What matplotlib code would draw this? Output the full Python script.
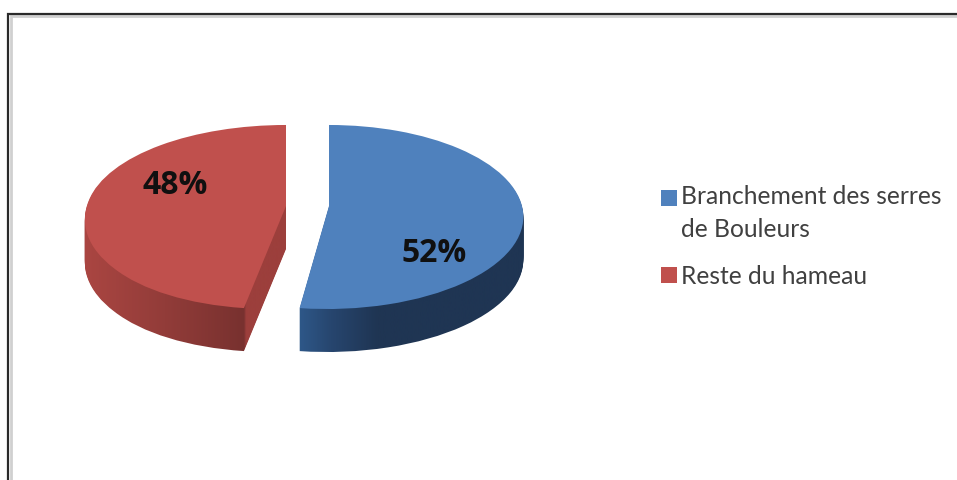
import numpy as np
import matplotlib
matplotlib.use("Agg")
import matplotlib.pyplot as plt
from matplotlib.colors import LinearSegmentedColormap
from matplotlib.legend_handler import HandlerPatch
from matplotlib.patches import Rectangle
from matplotlib.transforms import Affine2D, Transform

labels = ["Branchement des serres\nde Bouleurs", "Reste du hameau"]
values = [52, 48]

top_colors = ["#4f81bd", "#c0504d"]
# teinte du bord, de gauche a droite
side_colors = [
    [(0.0, "#2f5a8c"), (0.15, "#27466f"), (0.35, "#1f3553"), (1.0, "#1f3553")],
    [(0.0, "#ab4642"), (0.4, "#923c39"), (0.78, "#78312f"), (0.79, "#9c3f3c"), (1.0, "#9c3f3c")],
]
side_extent = [(295, 530), (82, 290)]

W, H = 957, 481
CY = 207
RY, P = 90.7, 0.1195
DEPTH = 43
# centre, rayon et deformation de chaque part
slice_cx = [329, 286]
slice_rx = [193, 199]
slice_bend = [2, 14]


class Perspective(Transform):
    # camembert vu en perspective : le haut est plus loin
    input_dims = 2
    output_dims = 2

    def __init__(self, rx, bend):
        super().__init__()
        self.rx = rx
        self.bend = bend

    def transform_non_affine(self, xy):
        xy = np.asarray(xy, dtype=float)
        w = 1 + P * xy[:, 1]
        x = self.rx * xy[:, 0] / w - self.bend * np.minimum(xy[:, 1], 0) ** 2
        return np.column_stack((x, RY * xy[:, 1] / w))


fig = plt.figure(figsize=(W / 100, H / 100), dpi=100)
ax = fig.add_axes([0, 0, 1, 1])


def pie_layer(depth):
    wedges, _ = ax.pie(values, colors=top_colors, startangle=90, counterclock=False,
                       wedgeprops={"linewidth": 0})
    for w, cx, rx, bend in zip(wedges, slice_cx, slice_rx, slice_bend):
        w.set_transform(Perspective(rx, bend) + Affine2D().translate(cx, H - CY - depth)
                        + ax.transData)
    return wedges


# bord 3D : pile de camemberts remplis par un degrade
for d in range(DEPTH, 0, -1):
    for w, stops, (x0, x1) in zip(pie_layer(d), side_colors, side_extent):
        w.set_visible(False)
        cmap = LinearSegmentedColormap.from_list("side", stops, N=256)
        im = ax.imshow(np.linspace(0, 1, 256)[None, :], cmap=cmap, aspect="auto",
                       extent=(x0, x1, 0, H), zorder=1)
        im.set_clip_path(w)

top = pie_layer(0)
for w in top:
    w.set_zorder(2)

ax.set_xlim(0, W)
ax.set_ylim(0, H)
ax.set_aspect("auto")
ax.axis("off")

# pourcentages
pct_pos = [(434, 254), (175, 185)]
for v, (x, y) in zip(values, pct_pos):
    ax.text(x, H - y, f"{v}%", ha="center", va="center", fontsize=23,
            fontweight="bold", family="Open Sans", color="#101010", zorder=3)

# cadre de l'image
ax.plot([8, 8, W], [0, H - 14.5, H - 14.5], color="#2a2a2a", lw=1.6, zorder=5,
        solid_joinstyle="miter")
ax.plot([10.5, 10.5, W], [0, H - 17, H - 17], color="#d0d0d0", lw=2, zorder=4,
        solid_joinstyle="miter")


# le carre de la legende reste sur la premiere ligne du texte
def first_line_square(legend, orig_handle, xdescent, ydescent, width, height, fontsize):
    return Rectangle((-xdescent, -ydescent + 0.61 * fontsize), width, height)


leg = fig.legend(top, labels, loc="upper left", bbox_to_anchor=(654 / W, 1 - 178 / H),
                 frameon=False, handlelength=0.62, handleheight=0.62, handletextpad=0.16,
                 labelspacing=1.0, prop={"family": "Lato", "size": 17.7}, labelcolor="#404040",
                 borderpad=0.3, borderaxespad=0,
                 handler_map={top[0]: HandlerPatch(patch_func=first_line_square)})
leg.get_texts()[0].set_linespacing(1.5)

fig.savefig("out.png", dpi=100)
